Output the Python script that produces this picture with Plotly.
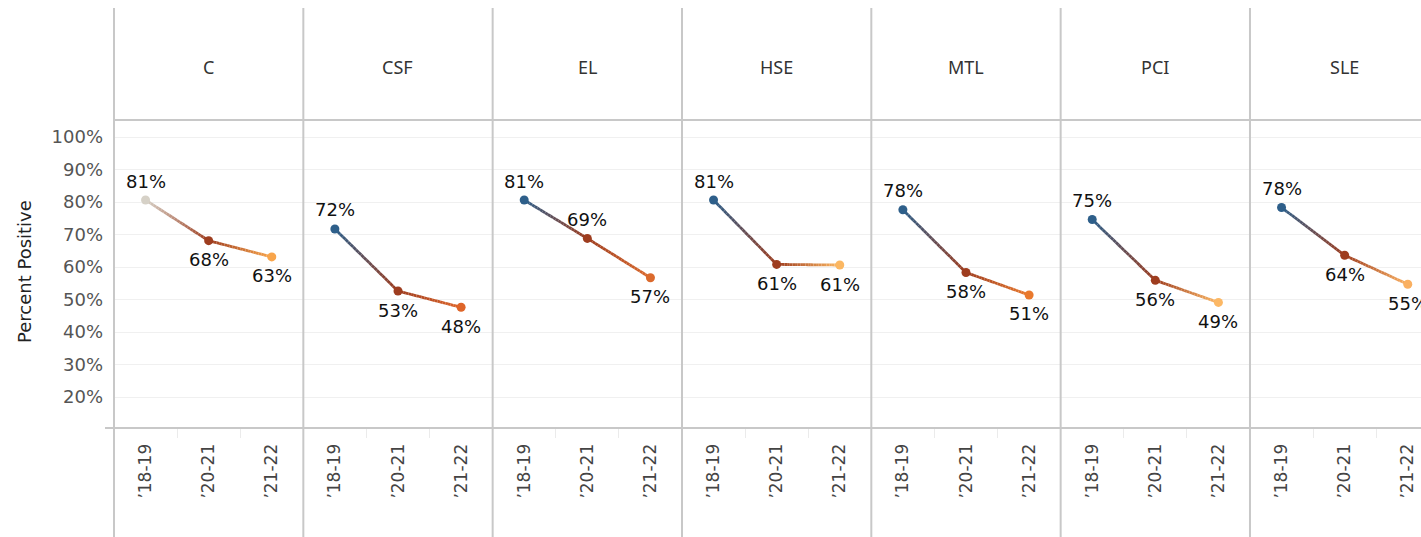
import plotly.graph_objects as go

# ---------------- data ----------------
panels = ["C", "CSF", "EL", "HSE", "MTL", "PCI", "SLE"]
years = ["\u201918-19", "\u201920-21", "\u201921-22"]

c_vals = [80.6, 68.1, 63.1]
csf_vals = [71.7, 52.6, 47.6]
el_vals = [80.6, 68.8, 56.7]
hse_vals = [80.6, 60.8, 60.6]
mtl_vals = [77.6, 58.3, 51.4]
pci_vals = [74.6, 55.9, 49.1]
sle_vals = [78.3, 63.6, 54.7]

y_ticks = [20, 30, 40, 50, 60, 70, 80, 90, 100]

# ---------------- styles ----------------
values = [c_vals, csf_vals, el_vals, hse_vals, mtl_vals, pci_vals, sle_vals]
point_colors = [
    ["#d6d1c7", "#9e3d1f", "#f8a54b"],
    ["#2e5f8a", "#9e3d1f", "#de6529"],
    ["#2e5f8a", "#9e3d1f", "#db6a2d"],
    ["#2e5f8a", "#9e3d1f", "#fbb762"],
    ["#2e5f8a", "#9e3d1f", "#e9792d"],
    ["#2e5f8a", "#9e3d1f", "#fcb865"],
    ["#2e5f8a", "#9e3d1f", "#fab061"],
]
label_side = [
    [1, -1, -1],
    [1, -1, -1],
    [1, 1, -1],
    [1, -1, -1],
    [1, -1, -1],
    [1, -1, -1],
    [1, -1, -1],
]

W, H = 1421, 537
FONT = "DejaVu Sans"
HFONT = "Noto Sans"
panel_left = 114.0
panel_w = 189.33
plot_top_px, plot_bot_px = 120.0, 428.0
y_top_val = 100 + (137 - plot_top_px) / 3.25
y_bot_val = 100 - (plot_bot_px - 137) / 3.25
line_col = "#c8c8c8"


def hex2rgb(h):
    h = h.lstrip("#")
    return tuple(int(h[i:i + 2], 16) for i in (0, 2, 4))


def blend(a, b, t):
    ra, rb = hex2rgb(a), hex2rgb(b)
    return "rgb(%d,%d,%d)" % tuple(round(ra[i] + (rb[i] - ra[i]) * t) for i in range(3))


def px_x(p):
    return p / W


def px_y(p):
    return 1 - p / H


fig = go.Figure()
annotations = []
shapes = []
N = 24

for i, name in enumerate(panels):
    sfx = "" if i == 0 else str(i + 1)
    xa, ya = "x" + sfx, "y" + sfx
    vals = values[i]
    cols = point_colors[i]
    xs = list(range(len(years)))

    # gradient line segments
    for j in range(len(vals) - 1):
        for k in range(N):
            t0, t1 = k / N, (k + 1) / N
            fig.add_trace(go.Scatter(
                x=[xs[j] + t0 * (xs[j + 1] - xs[j]), xs[j] + t1 * (xs[j + 1] - xs[j])],
                y=[vals[j] + t0 * (vals[j + 1] - vals[j]), vals[j] + t1 * (vals[j + 1] - vals[j])],
                mode="lines",
                line=dict(color=blend(cols[j], cols[j + 1], (t0 + t1) / 2), width=2.8),
                hoverinfo="skip", showlegend=False, xaxis=xa, yaxis=ya,
            ))
    fig.add_trace(go.Scatter(
        x=xs, y=vals, mode="markers",
        marker=dict(color=cols, size=9),
        showlegend=False, xaxis=xa, yaxis=ya,
        hovertemplate=name + " %{text}: %{y:.0f}%<extra></extra>",
        text=years,
    ))
    for j, v in enumerate(vals):
        annotations.append(dict(
            x=xs[j], y=v, xref=xa, yref=ya, text=f"{v:.0f}%",
            showarrow=False, yshift=19 * label_side[i][j],
            xanchor="center", yanchor="middle",
            font=dict(family=FONT, size=18, color="#111111"),
        ))

    left = panel_left + i * panel_w
    right = min(left + panel_w, W)
    span = (right - left) / panel_w * 3
    fig.layout["xaxis" + sfx] = dict(
        domain=[px_x(left), px_x(right)],
        range=[-0.5, -0.5 + span],
        anchor=ya,
        tickmode="array", tickvals=xs, ticktext=years,
        tickangle=-90,
        ticks="outside", ticklen=8, tickcolor="rgba(0,0,0,0)",
        minor=dict(tickmode="array", tickvals=[-0.5, 0.5, 1.5, 2.5], ticks="outside",
                   ticklen=9, tickcolor="#ebebeb", tickwidth=1, showgrid=False),
        tickfont=dict(family=FONT, size=17, color="#444444"),
        showgrid=False, zeroline=False, showline=False, fixedrange=True,
    )
    fig.layout["yaxis" + sfx] = dict(
        domain=[px_y(plot_bot_px), px_y(plot_top_px)],
        range=[y_bot_val, y_top_val],
        anchor=xa,
        tickmode="array", tickvals=y_ticks,
        ticktext=[f"{t}%" for t in y_ticks],
        showticklabels=(i == 0),
        ticks="", ticklabelstandoff=10,
        tickfont=dict(family=FONT, size=18, color="#555555"),
        showgrid=True, gridcolor="#f0f0f0", gridwidth=1,
        zeroline=False, showline=False, fixedrange=True,
    )
    # header
    annotations.append(dict(
        x=px_x(left + panel_w / 2), y=px_y(67), xref="paper", yref="paper",
        text=name, showarrow=False, xanchor="center", yanchor="middle",
        font=dict(family=HFONT, size=18, color="#333333"),
    ))
    # panel divider
    shapes.append(dict(type="line", xref="paper", yref="paper",
                       x0=px_x(left), x1=px_x(left), y0=px_y(8), y1=0,
                       line=dict(color=line_col, width=2)))

shapes.append(dict(type="line", xref="paper", yref="paper",
                   x0=px_x(panel_left), x1=1, y0=px_y(plot_top_px), y1=px_y(plot_top_px),
                   line=dict(color=line_col, width=2)))
shapes.append(dict(type="line", xref="paper", yref="paper",
                   x0=px_x(105), x1=1, y0=px_y(plot_bot_px), y1=px_y(plot_bot_px),
                   line=dict(color=line_col, width=2)))

annotations.append(dict(
    x=px_x(24), y=px_y(272), xref="paper", yref="paper",
    text="Percent Positive", textangle=-90, showarrow=False,
    xanchor="center", yanchor="middle",
    font=dict(family=FONT, size=18, color="#222222"),
))

fig.update_layout(
    width=W, height=H,
    margin=dict(l=0, r=0, t=0, b=0),
    paper_bgcolor="white", plot_bgcolor="white",
    annotations=annotations, shapes=shapes,
    showlegend=False,
)

fig.write_html(
    "out.html",
    config={"displayModeBar": False},
    post_script="document.body.style.margin='0';document.body.style.overflow='hidden';",
)
